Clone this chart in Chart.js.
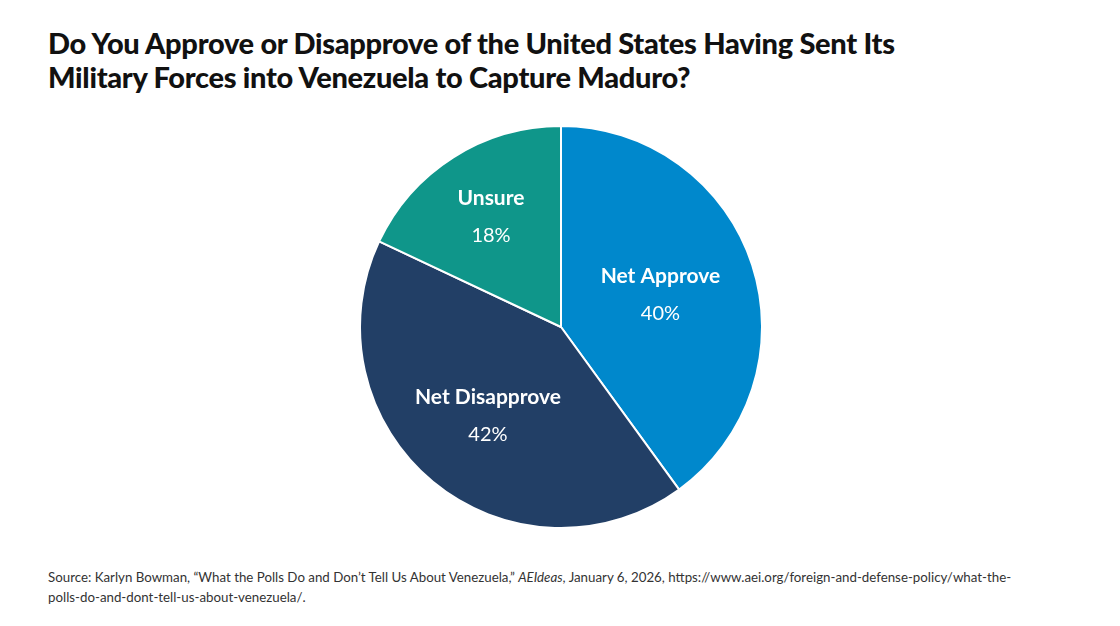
<!DOCTYPE html>
<html>
<head>
<meta charset="utf-8">
<script src="https://cdn.jsdelivr.net/npm/chart.js@4.4.1/dist/chart.umd.min.js"></script>
<style>
  body { margin: 0; background: #fff; font-family: Lato, "Noto Sans", sans-serif; }
  #page { position: relative; width: 1120px; height: 626px; overflow: hidden; }
  h1 { position: absolute; left: 48px; top: 26px; margin: 0; font-size: 29px; line-height: 34px;
       font-weight: 900; color: #111; letter-spacing: -0.3px; }
  #pie-box { position: absolute; left: 359px; top: 125px; width: 404px; height: 404px; }
  #source { position: absolute; left: 48px; top: 567px; width: 975px; font-size: 13.3px; line-height: 20px; color: #333; }
</style>
</head>
<body>
<div id="page">
  <h1>Do You Approve or Disapprove of the United States Having Sent Its<br>Military Forces into Venezuela to Capture Maduro?</h1>
  <div id="pie-box"><canvas id="pie"></canvas></div>
  <div id="source">Source: Karlyn Bowman, “What the Polls Do and Don’t Tell Us About Venezuela,” <i>AEIdeas</i>, January 6, 2026, https://www.aei.org/foreign-and-defense-policy/what-the-polls-do-and-dont-tell-us-about-venezuela/.</div>
</div>
<script>
const labels = ["Net Approve", "Net Disapprove", "Unsure"];
const values = [40, 42, 18];
const sliceColors = ["#0088cc", "#223f66", "#0f968a"];
// how far out (fraction of radius) each label sits
const labelRadius = [0.52, 0.57, 0.65];

const sliceLabels = {
  id: "sliceLabels",
  afterDatasetsDraw(chart) {
    const ctx = chart.ctx;
    const meta = chart.getDatasetMeta(0);
    ctx.save();
    ctx.fillStyle = "#fff";
    ctx.textAlign = "center";
    ctx.textBaseline = "middle";
    meta.data.forEach((arc, i) => {
      const mid = (arc.startAngle + arc.endAngle) / 2;
      const r = arc.outerRadius * labelRadius[i];
      const x = arc.x + Math.cos(mid) * r;
      const y = arc.y + Math.sin(mid) * r;
      ctx.font = "bold 21px Lato, 'Noto Sans', sans-serif";
      ctx.fillText(labels[i], x, y - 18);
      ctx.font = "20px Lato, 'Noto Sans', sans-serif";
      ctx.fillText(values[i] + "%", x, y + 19);
    });
    ctx.restore();
  }
};

new Chart(document.getElementById("pie"), {
  type: "pie",
  plugins: [sliceLabels],
  data: {
    labels: labels,
    datasets: [{
      data: values,
      backgroundColor: sliceColors,
      borderColor: "#fff",
      borderWidth: 2
    }]
  },
  options: {
    responsive: true,
    maintainAspectRatio: false,
    animation: false,
    plugins: {
      legend: { display: false },
      tooltip: { enabled: false }
    }
  }
});
</script>
</body>
</html>
